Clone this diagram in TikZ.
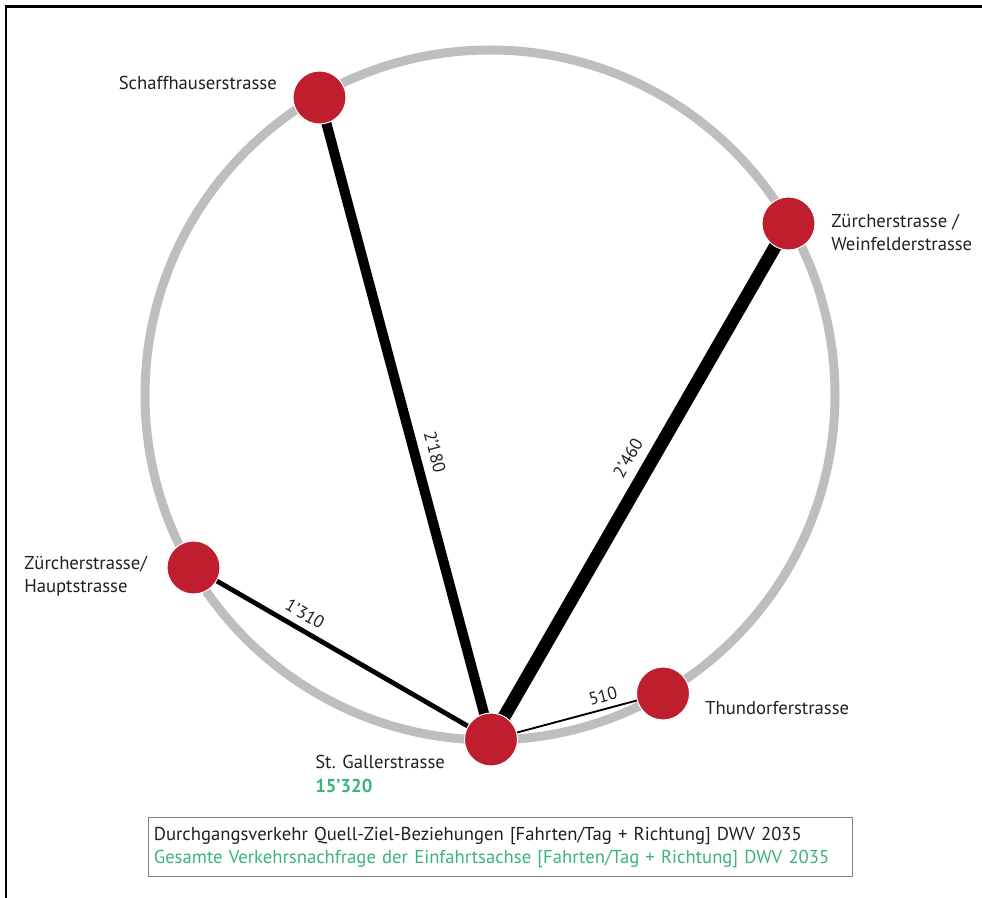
\documentclass[tikz,border=0pt]{standalone}
\usepackage{fontspec}
\setmainfont{PT Sans}
\definecolor{nodered}{HTML}{BE1E2D}
\definecolor{ringgray}{HTML}{BCBEC0}
\definecolor{labgreen}{HTML}{3BB37A}
\definecolor{txtcol}{HTML}{231F20}
\definecolor{boxgray}{HTML}{808080}
\pgfdeclarelayer{bg}
\pgfsetlayers{bg,main}
\tikzset{
  stop/.style={circle, fill=nodered, draw=white, line width=0.75pt, minimum size=39.75pt, inner sep=0pt},
  place/.style={text=txtcol, font=\fontsize{14}{17.25}\selectfont, inner sep=0pt},
  flow/.style={text=txtcol, font=\fontsize{13.2}{15}\selectfont, inner sep=0pt},
}
\begin{document}
\begin{tikzpicture}[x=0.75pt,y=-0.75pt]
\useasboundingbox (0,0) rectangle (982,898);
% frame
\draw[line width=1.7pt] (5.7,898) -- (5.7,6.5) -- (982,6.5);
% stops
\node[stop] (s) at (319.5,97.5) {};
\node[stop] (w) at (788.5,223.5) {};
\node[stop] (h) at (193.5,567.5) {};
\node[stop] (t) at (663,693.5) {};
\node[stop] (g) at (491,739.5) {};
\coordinate (ctr) at (490,395);
\begin{pgfonlayer}{bg}
\draw[ringgray, line width=6.75pt] (ctr) circle [radius=258.75pt];
\draw[line width=7.5pt] (g.center) -- (s.center);
\draw[line width=9.75pt] (g.center) -- (w.center);
\draw[line width=3.6pt] (g.center) -- (h.center);
\draw[line width=1.4pt] (g.center) -- (t.center);
\end{pgfonlayer}
% flow labels
\node[flow, rotate=-75] (l1) at (435,452) {2’180};
\node[flow, rotate=60] (l2) at (628,458) {2’460};
\node[flow, rotate=-30] (l3) at (305,614) {1’310};
\node[flow, rotate=15] (l4) at (603,696) {510};
% place names
\node[place, anchor=base east] (ns) at (277,90) {Schaffhauserstrasse};
\node[place, anchor=west, align=left] (nw) at (831,232) {Zürcherstrasse /\\Weinfelderstrasse};
\node[place, anchor=west, align=left] (nh) at (24,576) {Zürcherstrasse/\\Hauptstrasse};
\node[place, anchor=base west] (nt) at (705,714) {Thundorferstrasse};
\node[place, anchor=base west] (ng) at (315,768) {St. Gallerstrasse};
\node[place, anchor=base west, text=labgreen, font=\fontsize{14}{15}\selectfont\bfseries] (ngv) at (315,792) {15’320};
% legend
\node[draw=boxgray, line width=0.75pt, anchor=north west, minimum width=528pt, minimum height=44.25pt,
      text width=520pt, inner xsep=4pt, align=left, text=txtcol, font=\fontsize{14}{17.25}\selectfont] (legend) at (148,817)
  {Durchgangsverkehr Quell-Ziel-Beziehungen [Fahrten/Tag + Richtung] DWV 2035\\
   \textcolor{labgreen}{Gesamte Verkehrsnachfrage der Einfahrtsachse [Fahrten/Tag + Richtung] DWV 2035}};
\end{tikzpicture}
\end{document}
